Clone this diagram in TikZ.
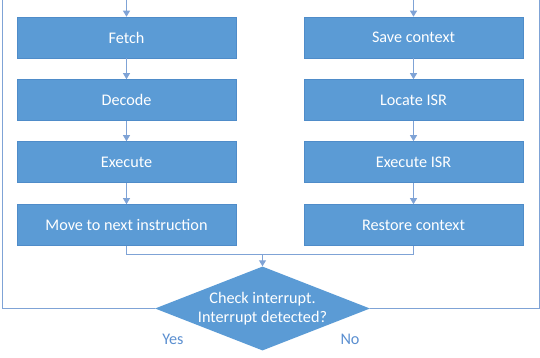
\documentclass[tikz,border=0pt]{standalone}
\usepackage{fontspec}
\setmainfont{Carlito}
\usetikzlibrary{arrows.meta,shapes.geometric}
\definecolor{boxblue}{HTML}{5B9BD5}
\definecolor{boxedge}{HTML}{4F8CC9}
\definecolor{linecol}{HTML}{7FA3D6}
\definecolor{labcol}{HTML}{5B8FD0}
\begin{document}
\begin{tikzpicture}[x=1pt,y=-1pt,
  stepbox/.style={draw=boxedge,fill=boxblue,line width=0.6pt,minimum width=219pt,minimum height=41pt,inner sep=0pt,text=white,font=\fontsize{16.2}{19}\selectfont},
  decision/.style={diamond,fill=boxblue,inner sep=0pt,minimum width=215pt,minimum height=84pt,aspect=2.56,text=white,align=center,font=\fontsize{16.2}{19.5}\selectfont},
  conn/.style={draw=linecol,line width=1pt},
  arr/.style={conn,-{Triangle[width=7pt,length=6pt]}},
  lab/.style={text=labcol,font=\fontsize{16.2}{19}\selectfont}]
\clip (0,0) rectangle (540,358);
\node[stepbox] (fetch) at (126.5,37.5) {Fetch};
\node[stepbox] (decode) at (126.5,100) {Decode};
\node[stepbox] (exec) at (126.5,162) {Execute};
\node[stepbox] (move) at (126.5,225) {Move to next instruction};
\node[stepbox] (save) at (413.5,37.5) {Save context};
\node[stepbox] (locate) at (413.5,100) {Locate ISR};
\node[stepbox] (execisr) at (413.5,162) {Execute ISR};
\node[stepbox] (restore) at (413.5,225) {Restore context};
\node[decision] (check) at (262.5,308.5) {Check interrupt.\\Interrupt detected?};
\coordinate (ltop) at (2,-5);
\coordinate (rtop) at (539,-5);
\coordinate (join) at (262.5,254);
\draw[arr] (fetch) -- (decode);
\draw[arr] (decode) -- (exec);
\draw[arr] (exec) -- (move);
\draw[arr] (save) -- (locate);
\draw[arr] (locate) -- (execisr);
\draw[arr] (execisr) -- (restore);
\draw[conn] (move.south) |- (join);
\draw[conn] (restore.south) |- (join);
\draw[arr] (join) -- (check.north);
\draw[arr] (check.west) -| (ltop) -| (fetch.north);
\draw[arr] (check.east) -| (rtop) -| (save.north);
\node[lab] (yes) at (173,339) {Yes};
\node[lab] (no) at (350,339) {No};
\end{tikzpicture}
\end{document}
